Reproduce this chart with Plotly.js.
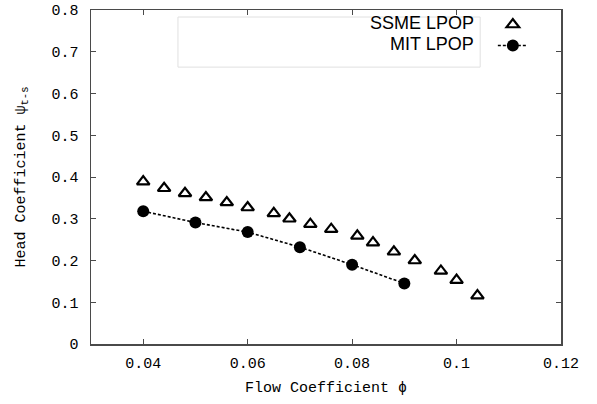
<!DOCTYPE html>
<html>
<head>
<meta charset="utf-8">
<script src="https://cdn.plot.ly/plotly-3.0.1.min.js"></script>
<style>html,body{margin:0;padding:0;background:#fff}#chart{width:597px;height:404px}</style>
</head>
<body>
<div id="chart"></div>
<script>
// SSME LPOP data (flow coefficient, head coefficient)
const ssmePhi = [0.040, 0.044, 0.048, 0.052, 0.056, 0.060, 0.065, 0.068, 0.072, 0.076, 0.081, 0.084, 0.088, 0.092, 0.097, 0.100, 0.104];
const ssmePsi = [0.389, 0.373, 0.361, 0.351, 0.339, 0.327, 0.313, 0.300, 0.287, 0.275, 0.259, 0.243, 0.221, 0.200, 0.175, 0.153, 0.116];
// MIT LPOP data
const mitPhi = [0.04, 0.05, 0.06, 0.07, 0.08, 0.09];
const mitPsi = [0.318, 0.291, 0.268, 0.232, 0.190, 0.145];
// tick labels
const xTicks = [0.04, 0.06, 0.08, 0.1, 0.12];
const xTickText = ['0.04', '0.06', '0.08', '0.1', '0.12'];
const yTicks = [0, 0.1, 0.2, 0.3, 0.4, 0.5, 0.6, 0.7, 0.8];
const yTickText = ['0', '0.1', '0.2', '0.3', '0.4', '0.5', '0.6', '0.7', '0.8'];
const seriesNames = ['SSME LPOP', 'MIT LPOP'];

const mono = 'Liberation Mono, Courier New, monospace';
const axisColor = '#4a4a4a';

const traces = [
  {
    x: ssmePhi, y: ssmePsi, name: seriesNames[0], legendgroup: 'a', type: 'scatter', mode: 'markers',
    marker: {symbol: 'triangle-up-open', size: 11, color: '#000', line: {width: 2.2, color: '#000'}}
  },
  {
    x: mitPhi, y: mitPsi, name: seriesNames[1], legendgroup: 'b', type: 'scatter', mode: 'lines+markers',
    line: {color: '#000', width: 1.6, dash: '3px,2px'},
    marker: {symbol: 'circle', size: 12, color: '#000'}
  }
];

const layout = {
  width: 597, height: 404,
  margin: {l: 91, r: 36, t: 10, b: 60},
  paper_bgcolor: '#fff', plot_bgcolor: '#fff',
  showlegend: true,
  legend: {
    x: 0.855, y: 1.0, xanchor: 'left', yanchor: 'top',
    bgcolor: 'rgba(0,0,0,0)', borderwidth: 0,
    font: {family: 'Liberation Sans', size: 8, color: 'rgba(0,0,0,0)'},
    tracegroupgap: 2
  },
  xaxis: {
    range: [0.03, 0.12], tickvals: xTicks, ticktext: xTickText,
    showgrid: false, zeroline: false,
    showline: true, linecolor: axisColor, linewidth: 1.5, mirror: 'allticks',
    ticks: 'inside', ticklen: 5, tickcolor: axisColor, tickwidth: 1,
    ticklabelstandoff: 4,
    tickfont: {family: mono, size: 15, color: '#000'},
    title: {text: 'Flow Coefficient ϕ', font: {family: mono, size: 15, color: '#000'}, standoff: 10}
  },
  yaxis: {
    range: [0, 0.8], tickvals: yTicks, ticktext: yTickText,
    showgrid: false, zeroline: false,
    showline: true, linecolor: axisColor, linewidth: 1.5, mirror: 'allticks',
    ticks: 'inside', ticklen: 5, tickcolor: axisColor, tickwidth: 1,
    ticklabelstandoff: 8,
    tickfont: {family: mono, size: 15, color: '#000'},
    title: {text: 'Head Coefficient ψ<sub>t-s</sub>', font: {family: mono, size: 15, color: '#000'}, standoff: 22}
  },
  shapes: [
    {type: 'rect', xref: 'paper', yref: 'paper', x0: 0.185, x1: 0.828, y0: 0.829, y1: 0.979,
     line: {color: '#e0e0e0', width: 1}, fillcolor: 'rgba(0,0,0,0)', layer: 'below'}
  ],
  annotations: [
    {xref: 'paper', yref: 'paper', x: 0.82, y: 0.961, xanchor: 'right', yanchor: 'middle', showarrow: false,
     text: seriesNames[0], font: {family: 'Liberation Sans', size: 18, color: '#000'}},
    {xref: 'paper', yref: 'paper', x: 0.82, y: 0.898, xanchor: 'right', yanchor: 'middle', showarrow: false,
     text: seriesNames[1], font: {family: 'Liberation Sans', size: 18, color: '#000'}}
  ]
};

Plotly.newPlot('chart', traces, layout, {displayModeBar: false, staticPlot: true});
</script>
</body>
</html>
